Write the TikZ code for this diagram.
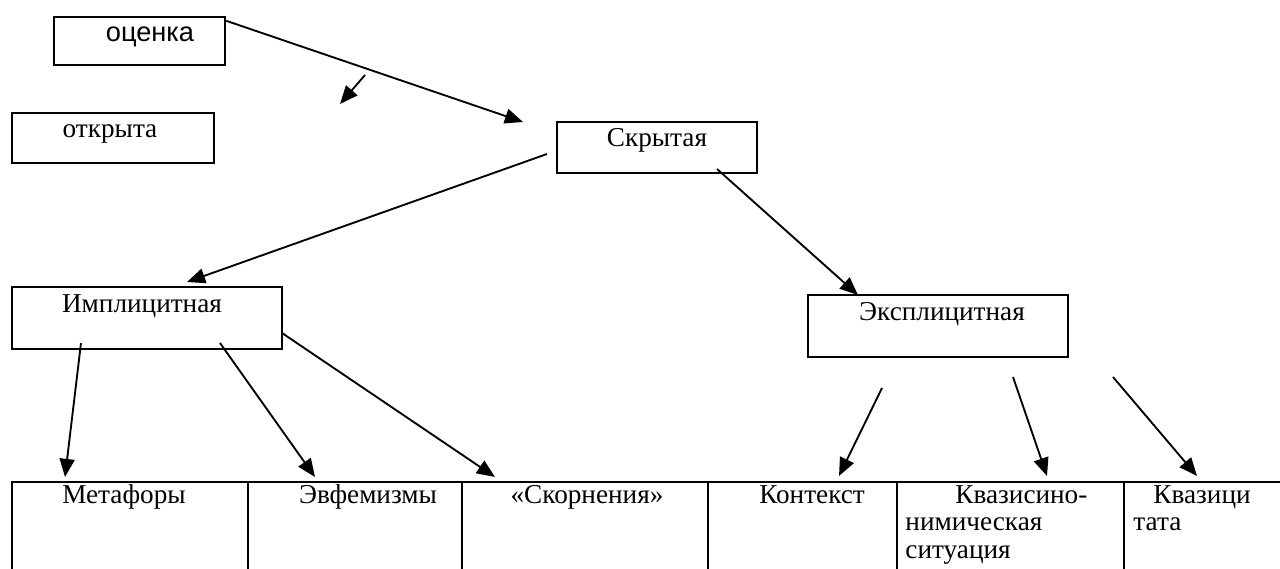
\documentclass[tikz,border=0pt]{standalone}
\usepackage{fontspec}
\setmainfont{Liberation Serif}
\newfontfamily\arialfont{Liberation Sans}
\usetikzlibrary{arrows.meta}
\tikzset{
  box/.style={draw, line width=1.1pt, inner sep=0pt},
  txt/.style={inner sep=0pt, font=\fontsize{12.4}{12.6}\selectfont},
  arr/.style={line width=0.85pt, -{Triangle[length=0.29cm,width=0.24cm]}}
}
\begin{document}
\begin{tikzpicture}[x=0.016cm, y=-0.016cm]
  \useasboundingbox (0,0) rectangle (1280,569);

  \node[box, minimum width=2.736cm, minimum height=0.768cm] (otsenka) at (139.5,41) {};
  \node[box, minimum width=3.232cm, minimum height=0.8cm] (otkr) at (113,138) {};
  \node[box, minimum width=3.2cm, minimum height=0.816cm] (skr) at (657,147.5) {};
  \node[box, minimum width=4.32cm, minimum height=0.992cm] (impl) at (147,318) {};
  \node[box, minimum width=4.16cm, minimum height=0.992cm] (expl) at (938,326) {};

  \node[txt, anchor=base, font=\arialfont\fontsize{12.4}{12.6}\selectfont] (otsenka-t) at (150,42) {оценка};
  \node[txt, anchor=base] (otkr-t) at (110,138) {открыта};
  \node[txt, anchor=base] (skr-t) at (657,147) {Скрытая};
  \node[txt, anchor=base] (impl-t) at (142,312) {Имплицитная};
  \node[txt, anchor=base] (expl-t) at (942,320) {Эксплицитная};

  \draw[line width=1.1pt] (12,569) |- (1280,482);
  \foreach \x in {248,462,708,897,1124}
    \draw[line width=1.1pt] (\x,482) -- (\x,569);

  \node[txt, anchor=base] (metaf) at (124,503) {Метафоры};
  \node[txt, anchor=base] (evfem) at (368,503) {Эвфемизмы};
  \node[txt, anchor=base] (skorn) at (587,503) {«Скорнения»};
  \node[txt, anchor=base] (kontekst) at (812,503) {Контекст};
  \node[txt, anchor=north west, align=left] (kvazisin) at (905,485) {\hspace*{0.8cm}Квазисино-\\нимическая\\ситуация};
  \node[txt, anchor=north west, align=left] (kvazicit) at (1133,485) {\hspace*{0.32cm}Квазици\\тата};

  \coordinate (o-end) at (523,122);
  \coordinate (stray-a) at (365,75);
  \coordinate (stray-b) at (340,104);
  \coordinate (skr-l) at (547,154);
  \coordinate (skr-r) at (717,169);
  \coordinate (impl-top) at (187,282);
  \coordinate (expl-top) at (858,295);
  \coordinate (impl-a) at (81,343);
  \coordinate (impl-b) at (220,343);
  \coordinate (impl-c) at (282,333);
  \coordinate (expl-a) at (882,388);
  \coordinate (expl-b) at (1013,377);
  \coordinate (expl-c) at (1113,377);
  \coordinate (metaf-in) at (65,477);
  \coordinate (evfem-in) at (315,477);
  \coordinate (skorn-in) at (495,477);
  \coordinate (kontekst-in) at (839,476);
  \coordinate (kvazisin-in) at (1047,476);
  \coordinate (kvazicit-in) at (1197,476);

  \draw[arr] ([yshift=-0.08cm]otsenka.north east) -- (o-end);
  \draw[arr] (stray-a) -- (stray-b);
  \draw[arr] (skr-l) -- (impl-top);
  \draw[arr] (skr-r) -- (expl-top);
  \draw[arr] (impl-a) -- (metaf-in);
  \draw[arr] (impl-b) -- (evfem-in);
  \draw[arr] (impl-c) -- (skorn-in);
  \draw[arr] (expl-a) -- (kontekst-in);
  \draw[arr] (expl-b) -- (kvazisin-in);
  \draw[arr] (expl-c) -- (kvazicit-in);
\end{tikzpicture}
\end{document}
